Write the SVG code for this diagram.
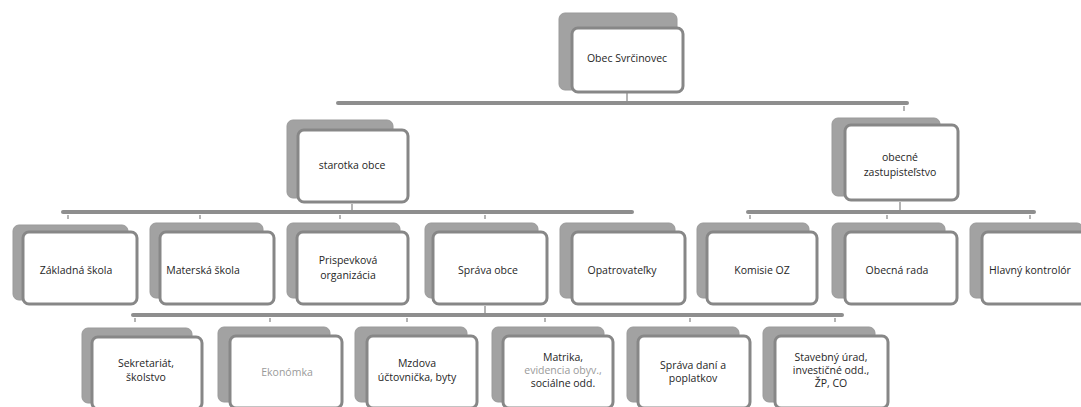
<svg xmlns="http://www.w3.org/2000/svg" width="1081" height="407" viewBox="0 0 1081 407">
<style>
.back{fill:#a2a2a2;stroke:#9a9a9a;stroke-width:1}
.front{fill:#ffffff;stroke:#878787;stroke-width:3}
.conn{stroke:#8e8e8e;stroke-width:4;stroke-linecap:round;fill:none}
.stub{stroke:#b4b4b4;stroke-width:2;fill:none}
text{font-family:"Open Sans","Noto Sans","DejaVu Sans",sans-serif;font-size:10.5px;fill:#262626;text-anchor:middle}
.faint{fill:#9a9a9a}
</style>
<rect width="1081" height="407" fill="#ffffff"/>
<g id="connectors">
<line class="conn" x1="338" y1="103" x2="907" y2="103"/>
<line class="stub" x1="627" y1="93" x2="627" y2="101"/>
<line class="stub" x1="904" y1="106" x2="904" y2="111"/>
<line class="conn" x1="63" y1="212" x2="632" y2="212"/>
<line class="stub" x1="352" y1="204" x2="352" y2="210"/>
<line class="stub" x1="68" y1="215" x2="68" y2="219"/>
<line class="stub" x1="200" y1="215" x2="200" y2="219"/>
<line class="stub" x1="340" y1="215" x2="340" y2="219"/>
<line class="stub" x1="485" y1="215" x2="485" y2="219"/>
<line class="conn" x1="748" y1="212" x2="1034" y2="212"/>
<line class="stub" x1="900" y1="202" x2="900" y2="210"/>
<line class="stub" x1="750" y1="215" x2="750" y2="219"/>
<line class="stub" x1="887" y1="215" x2="887" y2="219"/>
<line class="stub" x1="1030" y1="215" x2="1030" y2="219"/>
<line class="conn" x1="133" y1="315" x2="842" y2="315"/>
<line class="stub" x1="485" y1="306" x2="485" y2="313"/>
<line class="stub" x1="135" y1="318" x2="135" y2="322"/>
<line class="stub" x1="270" y1="318" x2="270" y2="322"/>
<line class="stub" x1="407" y1="318" x2="407" y2="322"/>
<line class="stub" x1="545" y1="318" x2="545" y2="322"/>
<line class="stub" x1="690" y1="318" x2="690" y2="322"/>
<line class="stub" x1="835" y1="318" x2="835" y2="322"/>
</g>
<g id="n-obec"><rect class="back" x="559" y="13" width="118" height="77" rx="6"/><rect class="front" x="572" y="28" width="111" height="64" rx="6"/><text x="627" y="62">Obec Svrčinovec</text></g>
<g id="n-starotka"><rect class="back" x="287" y="120" width="106" height="78" rx="6"/><rect class="front" x="298" y="130" width="110" height="72" rx="6"/><text x="352" y="169">starotka obce</text></g>
<g id="n-zastup"><rect class="back" x="832" y="118" width="108" height="78" rx="6"/><rect class="front" x="845" y="125" width="113" height="75" rx="6"/><text x="900" y="161">obecné</text><text x="900" y="176">zastupisteľstvo</text></g>
<g id="n-zs"><rect class="back" x="13" y="225" width="115" height="75" rx="6"/><rect class="front" x="23" y="232" width="114" height="72" rx="6"/><text x="76" y="274">Základná škola</text></g>
<g id="n-ms"><rect class="back" x="150" y="223" width="113" height="75" rx="6"/><rect class="front" x="160" y="232" width="114" height="72" rx="6"/><text x="203" y="274">Materská škola</text></g>
<g id="n-po"><rect class="back" x="287" y="223" width="113" height="75" rx="6"/><rect class="front" x="297" y="232" width="111" height="72" rx="6"/><text x="348" y="264">Prispevková</text><text x="348" y="279">organizácia</text></g>
<g id="n-so"><rect class="back" x="425" y="223" width="113" height="75" rx="6"/><rect class="front" x="433" y="232" width="114" height="72" rx="6"/><text x="488" y="274">Správa obce</text></g>
<g id="n-op"><rect class="back" x="560" y="223" width="115" height="75" rx="6"/><rect class="front" x="572" y="232" width="113" height="72" rx="6"/><text x="622" y="274">Opatrovateľky</text></g>
<g id="n-koz"><rect class="back" x="697" y="223" width="112" height="75" rx="6"/><rect class="front" x="707" y="232" width="110" height="72" rx="6"/><text x="762" y="274">Komisie OZ</text></g>
<g id="n-or"><rect class="back" x="832" y="223" width="113" height="75" rx="6"/><rect class="front" x="845" y="232" width="112" height="72" rx="6"/><text x="897" y="274">Obecná rada</text></g>
<g id="n-hk"><rect class="back" x="970" y="223" width="113" height="75" rx="6"/><rect class="front" x="982" y="232" width="115" height="72" rx="6"/><text x="1030" y="274">Hlavný kontrolór</text></g>
<g id="n-sek"><rect class="back" x="82" y="328" width="110" height="75" rx="6"/><rect class="front" x="92" y="337" width="110" height="72" rx="6"/><text x="146" y="367">Sekretariát,</text><text x="146" y="381">školstvo</text></g>
<g id="n-eko"><rect class="back" x="218" y="327" width="112" height="75" rx="6"/><rect class="front" x="230" y="336" width="112" height="72" rx="6"/><text class="faint" x="287" y="376">Ekonómka</text></g>
<g id="n-mzd"><rect class="back" x="355" y="327" width="112" height="75" rx="6"/><rect class="front" x="367" y="336" width="110" height="72" rx="6"/><text x="417" y="367">Mzdova</text><text x="417" y="381">účtovnička, byty</text></g>
<g id="n-mat"><rect class="back" x="492" y="327" width="112" height="75" rx="6"/><rect class="front" x="503" y="336" width="110" height="72" rx="6"/><text x="563" y="361">Matrika,</text><text class="faint" x="563" y="374">evidencia obyv.,</text><text x="563" y="387">sociálne odd.</text></g>
<g id="n-dan"><rect class="back" x="627" y="327" width="112" height="75" rx="6"/><rect class="front" x="638" y="336" width="112" height="72" rx="6"/><text x="693" y="369">Správa daní a</text><text x="693" y="382">poplatkov</text></g>
<g id="n-stav"><rect class="back" x="763" y="327" width="112" height="75" rx="6"/><rect class="front" x="775" y="336" width="113" height="72" rx="6"/><text x="831" y="361">Stavebný úrad,</text><text x="831" y="374">investičné odd.,</text><text x="831" y="387">ŽP, CO</text></g>
</svg>
